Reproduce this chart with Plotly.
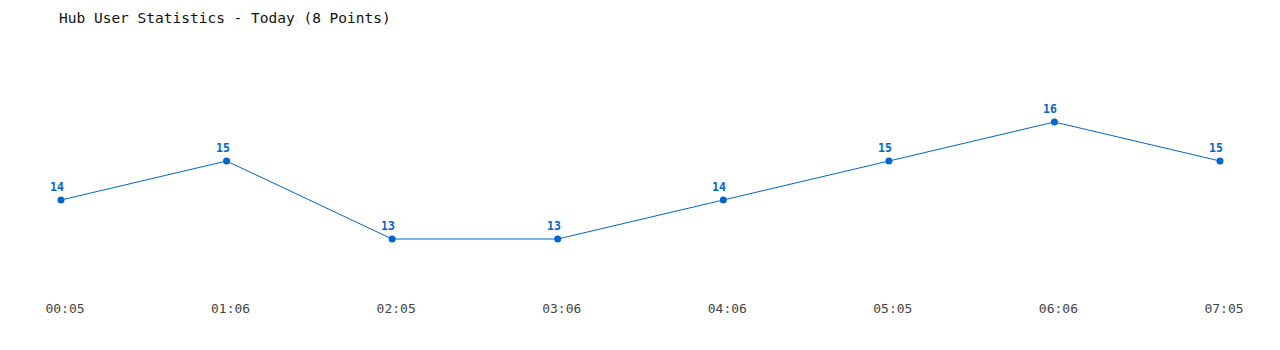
import plotly.graph_objects as go

times = ["00:05", "01:06", "02:05", "03:06", "04:06", "05:05", "06:06", "07:05"]
users = [14, 15, 13, 13, 14, 15, 16, 15]

title_text = "Hub User Statistics - Today (8 Points)"
color = "#0066cc"

x_idx = list(range(len(times)))

fig = go.Figure()
fig.add_trace(go.Scatter(
    x=x_idx, y=users,
    mode="lines+markers",
    line=dict(color=color, width=1),
    marker=dict(color=color, size=7),
    hoverinfo="skip",
    cliponaxis=False,
))

for xi, v in zip(x_idx, users):
    fig.add_annotation(
        x=xi, y=v, text=str(v), showarrow=False,
        xshift=-4, yshift=13, yanchor="middle", xanchor="center",
        font=dict(family="DejaVu Sans Mono", size=11.5, color=color, weight="bold"),
    )

y0 = 14 - 95 / 39
y1 = 14 + 140 / 39

fig.update_layout(
    width=1280, height=350,
    margin=dict(l=61, r=60, t=60, b=55),
    paper_bgcolor="white", plot_bgcolor="white",
    showlegend=False,
    title=dict(text=title_text, x=59 / 1280, xanchor="left", y=1 - 18 / 350, yanchor="middle",
               font=dict(family="DejaVu Sans Mono", size=14.5, color="#111")),
    xaxis=dict(range=[0, 7], tickmode="array", tickvals=x_idx, ticktext=times,
               showgrid=False, zeroline=False, showline=False, ticks="",
               ticklabelshift=4, ticklabelstandoff=4,
               tickfont=dict(family="DejaVu Sans Mono", size=13, color="#444")),
    yaxis=dict(range=[y0, y1], visible=False, showgrid=False, zeroline=False),
)

fig.write_html("out.html")
